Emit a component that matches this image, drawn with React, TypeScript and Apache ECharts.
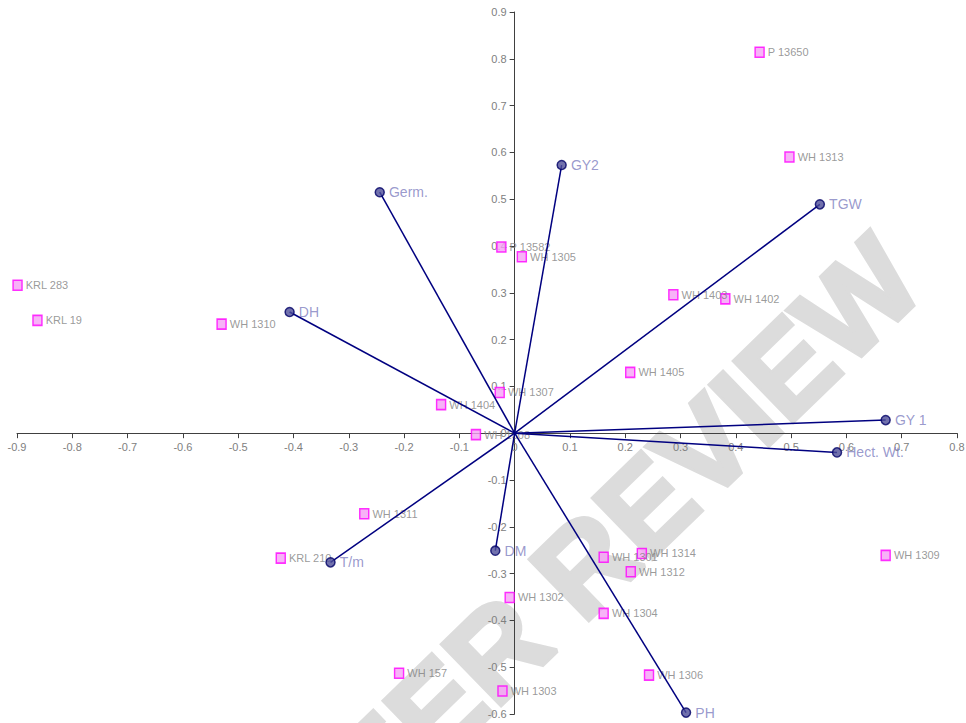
import React, { useEffect, useRef } from "react";
import * as echarts from "echarts";

const FONT = "Liberation Sans, Arial, sans-serif";

const genoNames = [
  "P 13650", "WH 1313", "P 13582", "WH 1305", "KRL 283", "KRL 19", "WH 1310",
  "WH 1403", "WH 1402", "WH 1405", "WH 1307", "WH 1404", "WH 1308", "WH 1311",
  "KRL 210", "WH 1301", "WH 1314", "WH 1312", "WH 1309", "WH 1302", "WH 1304",
  "WH 157", "WH 1306", "WH 1303",
];
const genoX = [
  0.443, 0.497, -0.024, 0.013, -0.899, -0.863, -0.53,
  0.287, 0.381, 0.209, -0.027, -0.133, -0.07, -0.272,
  -0.423, 0.161, 0.23, 0.21, 0.671, -0.009, 0.161,
  -0.209, 0.243, -0.022,
];
const genoY = [
  0.814, 0.59, 0.398, 0.377, 0.316, 0.241, 0.233,
  0.296, 0.287, 0.13, 0.087, 0.061, -0.003, -0.172,
  -0.267, -0.265, -0.257, -0.296, -0.261, -0.351, -0.385,
  -0.513, -0.517, -0.551,
];

const varNames = ["GY2", "Germ.", "TGW", "DH", "GY 1", "Hect. Wt.", "DM", "T/m", "PH"];
const varX = [0.085, -0.244, 0.552, -0.407, 0.671, 0.583, -0.035, -0.333, 0.31];
const varY = [0.573, 0.515, 0.489, 0.259, 0.028, -0.041, -0.251, -0.276, -0.597];

const xMin = -0.9, xMax = 0.8, yMin = -0.6, yMax = 0.9, step = 0.1;

const W = 966, H = 723;
const G = { left: 17, right: 9, top: 12, bottom: 9 };

export default function App() {
  const ref = useRef<HTMLDivElement>(null);
  useEffect(() => {
    if (!ref.current) return;
    const chart = echarts.init(ref.current, null, { renderer: "svg" });
    const gw = W - G.left - G.right;
    const gh = H - G.top - G.bottom;
    const yOffset = -((0 - xMin) / (xMax - xMin)) * gw; // move y axis to x=0
    const xOffset = -((0 - yMin) / (yMax - yMin)) * gh; // move x axis to y=0
    const axisCommon = {
      type: "value" as const,
      interval: step,
      axisLine: { onZero: false, lineStyle: { color: "#404040", width: 1 } },
      axisTick: { show: true, length: 5, lineStyle: { color: "#404040" } },
      axisLabel: { color: "#808080", fontSize: 11, fontFamily: FONT, showMinLabel: true, showMaxLabel: true },
      splitLine: { show: false },
    };
    chart.setOption({
      animation: false,
      backgroundColor: "#ffffff",
      grid: { ...G, containLabel: false, outerBoundsMode: "none" },
      xAxis: { ...axisCommon, min: xMin, max: xMax, position: "bottom", offset: xOffset },
      yAxis: { ...axisCommon, min: yMin, max: yMax, position: "left", offset: yOffset },
      graphic: [
        {
          type: "text",
          x: 595,
          y: 555,
          rotation: 0.77,
          z: -10,
          silent: true,
          style: {
            text: "PEER REVIEW",
            fontSize: 122,
            fontWeight: "bold",
            fontFamily: FONT,
            fill: "#dcdcdc",
            stroke: "#dcdcdc",
            lineWidth: 5,
            textAlign: "center",
            textVerticalAlign: "middle",
            align: "center",
            verticalAlign: "middle",
          },
        },
      ],
      series: [
        {
          type: "scatter",
          name: "genotypes",
          symbol: "rect",
          symbolSize: [9, 10],
          z: 2,
          itemStyle: { color: "#f5a0f5", borderColor: "#ff00ff", borderWidth: 1.5 },
          label: {
            show: true,
            position: "right",
            distance: 3,
            formatter: (p: any) => p.name,
            color: "#808080",
            fontSize: 11,
            fontFamily: FONT,
          },
          data: genoNames.map((n, i) => ({ name: n, value: [genoX[i], genoY[i]] })),
        },
        {
          type: "lines",
          coordinateSystem: "cartesian2d",
          z: 3,
          lineStyle: { color: "#000080", width: 1.5, opacity: 1 },
          data: varNames.map((n, i) => ({ name: n, coords: [[0, 0], [varX[i], varY[i]]] })),
        },
        {
          type: "scatter",
          name: "variables",
          symbol: "circle",
          symbolSize: 9,
          z: 4,
          itemStyle: { color: "#4d4d99", borderColor: "#000066", borderWidth: 1.5 },
          label: {
            show: true,
            position: "right",
            distance: 4,
            formatter: (p: any) => p.name,
            color: "#7f7fbf",
            fontSize: 14,
            fontFamily: FONT,
          },
          data: varNames.map((n, i) => ({ name: n, value: [varX[i], varY[i]] })),
        },
      ],
    });
    return () => chart.dispose();
  }, []);
  return (
    <div
      ref={ref}
      style={{ position: "fixed", left: 0, top: 0, width: W, height: H, background: "#fff" }}
    />
  );
}
